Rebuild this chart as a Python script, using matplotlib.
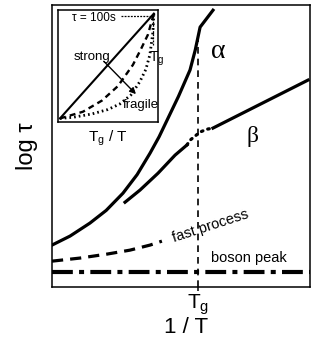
import matplotlib
matplotlib.use("Agg")
import matplotlib.pyplot as plt

plt.rcParams['font.family'] = ['Liberation Sans', 'DejaVu Sans']

# ── Data (arbitrary units, axes span 0..100) ───────────────────────────────
TG = 56.6

alpha_x = [0, 7.0, 14.7, 21.0, 27.5, 33.0, 38.0, 41.5, 44.6, 49.0, 53.5,
           55.5, 57.4, 62.4]
alpha_y = [14.9, 18.1, 22.7, 27.2, 33.3, 39.9, 47.5, 53.3, 59.2, 67.6, 77.0,
           84.0, 92.2, 98.2]

beta_lo_x = [28.3, 34.1, 41.1, 47.7, 52.3]
beta_lo_y = [30.1, 34.4, 40.4, 46.8, 50.4]
beta_dot_x = [52.3, 53.5, 57.4, 60.1, 62.4]
beta_dot_y = [50.4, 52.1, 55.0, 56.0, 56.4]
beta_hi_x = [62.4, 99.2]
beta_hi_y = [56.4, 73.4]

fast_x = [0, 10.9, 21.3, 30.2, 38.0, 42.6]
fast_y = [9.2, 10.3, 11.7, 13.1, 14.9, 16.3]

boson_x = [0, 100]
boson_y = [5.3, 5.3]

# inset (Angell plot), units 0..1
strong_x = [0.02, 0.96]
strong_y = [0.03, 0.97]
frag1_x = [0.02, 0.25, 0.44, 0.60, 0.75, 0.83, 0.90, 0.96]
frag1_y = [0.03, 0.09, 0.19, 0.32, 0.51, 0.65, 0.78, 0.97]
frag2_x = [0.02, 0.15, 0.34, 0.50, 0.62, 0.73, 0.82, 0.88, 0.92, 0.95, 0.96]
frag2_y = [0.03, 0.04, 0.07, 0.11, 0.16, 0.24, 0.36, 0.47, 0.60, 0.80, 0.97]

# ── Figure ──────────────────────────────────────────────────────────────────
fig = plt.figure(figsize=(3.16, 3.43), dpi=100)
ax = fig.add_axes([0.1646, 0.163, 0.8164, 0.822])
ax.set_xlim(0, 100)
ax.set_ylim(0, 100)
for s in ax.spines.values():
    s.set_linewidth(1.1)

ax.plot(alpha_x, alpha_y, color="black", lw=2.3, solid_joinstyle="round")
ax.plot(beta_lo_x, beta_lo_y, color="black", lw=2.3, solid_joinstyle="round")
ax.plot(beta_dot_x, beta_dot_y, color="black", lw=2.3, ls=(0, (0.5, 1.6)),
        dash_capstyle="round")
ax.plot(beta_hi_x, beta_hi_y, color="black", lw=2.3)
ax.plot(fast_x, fast_y, color="black", lw=2.3, ls=(0, (3.5, 2.2)))
ax.plot(boson_x, boson_y, color="black", lw=3.0, ls=(0, (5, 1.5, 1.2, 1.5)))
ax.plot([TG, TG], [0, 87.6], color="black", lw=1.2, ls=(0, (4, 3)))

ax.text(64.3, 83.7, "α", family=["Liberation Serif"], fontsize=20,
        ha="center", va="center")
ax.text(77.9, 53.5, "β", family=["Liberation Serif"], fontsize=17,
        ha="center", va="center")
ax.text(61.3, 21.8, "fast process", fontsize=10.5, rotation=18,
        ha="center", va="center", rotation_mode="anchor")
ax.text(76.4, 10.3, "boson peak", fontsize=10.5, ha="center", va="center")

ax.set_yticks([])
ax.set_xticks([TG])
ax.set_xticklabels([r"T$_\mathregular{g}$"], fontsize=15)
ax.tick_params(axis="x", length=3, width=1.1, pad=1)
ax.set_xlabel("1 / T", fontsize=16)
ax.xaxis.set_label_coords(0.52, -0.105)
ax.set_ylabel("log τ", fontsize=17, labelpad=10)

# ── Inset ───────────────────────────────────────────────────────────────────
ins = fig.add_axes([0.1835, 0.645, 0.316, 0.325])
ins.set_xlim(0, 1)
ins.set_ylim(0, 1)
ins.set_xticks([])
ins.set_yticks([])
for s in ins.spines.values():
    s.set_linewidth(1.1)

ins.plot(strong_x, strong_y, color="black", lw=1.5)
ins.plot(frag1_x, frag1_y, color="black", lw=1.7, ls=(0, (2.5, 1.8)))
ins.plot(frag2_x, frag2_y, color="black", lw=2.0, ls=(0, (0.6, 1.1)))
ins.plot([0.63, 0.96], [0.945, 0.945], color="black", lw=0.9,
         ls=(0, (1.5, 1)))
ins.plot([0.95, 0.95], [0.96, 0.68], color="black", lw=0.9, ls=(0, (1.5, 1)))
ins.annotate("", xy=(0.80, 0.23), xytext=(0.44, 0.56),
             arrowprops=dict(arrowstyle="-|>", color="black", lw=1.0,
                             mutation_scale=9))
ins.text(0.36, 0.93, "τ = 100s", fontsize=8.5, ha="center", va="center")
ins.text(0.34, 0.58, "strong", fontsize=9.5, ha="center", va="center")
ins.text(0.83, 0.15, "fragile", fontsize=9.5, ha="center", va="center")
ins.text(0.915, 0.56, r"T$_\mathregular{g}$", fontsize=10, ha="left",
         va="center", zorder=5)
ins.text(0.50, -0.15, r"T$_\mathregular{g}$ / T", fontsize=11, ha="center",
         va="center")

fig.savefig("out.png", dpi=100)
